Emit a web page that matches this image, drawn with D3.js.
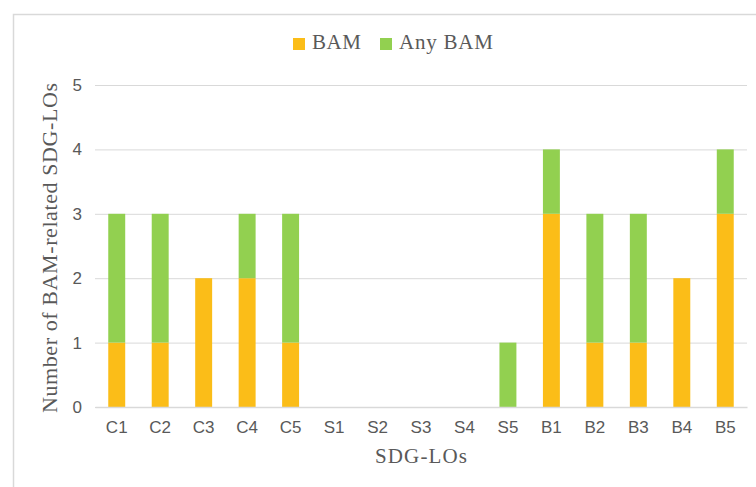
<!DOCTYPE html>
<html>
<head>
<meta charset="utf-8">
<script src="https://cdn.jsdelivr.net/npm/d3@7"></script>
<style>
    body { margin: 0; background: #fff; }
    .tick line { stroke: #d9d9d9; }
</style>
</head>
<body>
<svg id="chart"></svg>
<script>
const svgWidth = 756,
    svgHeight = 487,
    margin = {top: 85, right: 9, bottom: 80, left: 95},
    width = svgWidth - margin.left - margin.right,
    height = svgHeight - margin.top - margin.bottom;

// data
const categories = ["C1", "C2", "C3", "C4", "C5", "S1", "S2", "S3", "S4", "S5", "B1", "B2", "B3", "B4", "B5"];
const bam =    [1, 1, 2, 2, 1, 0, 0, 0, 0, 0, 3, 1, 1, 2, 3];
const anyBam = [2, 2, 0, 1, 2, 0, 0, 0, 0, 1, 1, 2, 2, 0, 1];
const yTicks = [0, 1, 2, 3, 4, 5];
const seriesNames = ["BAM", "Any BAM"];
const colors = ["#fbbd18", "#92d050"];

const chart = d3.select("#chart")
    .attr("width", svgWidth)
    .attr("height", svgHeight);

// outer frame (only top and left edge are visible)
chart.append("path")
    .attr("d", "M13.5," + svgHeight + "V14.5H" + svgWidth)
    .attr("fill", "none")
    .attr("stroke", "#d9d9d9")
    .attr("stroke-width", 1.5);

const innerChart = chart.append("g").attr("transform", `translate(${margin.left},${margin.top})`);

var xScale = d3.scaleBand().domain(categories).range([0, width]).paddingInner(0.61).paddingOuter(0.305);
var yScale = d3.scaleLinear().domain([0, 5]).range([height, 0]);

// grid lines + y labels
var yAxis = d3.axisLeft(yScale).tickValues(yTicks).tickSize(-width).tickPadding(13).tickFormat(d3.format("d"));
innerChart.append("g")
    .call(yAxis)
    .call(g => g.select(".domain").remove())
    .call(g => g.selectAll("text")
        .style("font-family", "'Liberation Sans', Arial, sans-serif")
        .style("font-size", "17px")
        .attr("fill", "#595959"));

// stack the two series
var rows = categories.map((c, i) => ({cat: c, BAM: bam[i], "Any BAM": anyBam[i]}));
var stacked = d3.stack().keys(seriesNames)(rows);

innerChart.append("g").selectAll("g")
    .data(stacked)
    .enter()
    .append("g")
    .attr("fill", (d, i) => colors[i])
    .selectAll("rect")
    .data(d => d)
    .enter()
    .append("rect")
    .attr("x", d => xScale(d.data.cat))
    .attr("width", xScale.bandwidth())
    .attr("y", d => yScale(d[1]))
    .attr("height", d => yScale(d[0]) - yScale(d[1]));

// x axis
var xAxis = d3.axisBottom(xScale).tickSize(0).tickPadding(14);
innerChart.append("g")
    .attr("transform", "translate(0," + height + ")")
    .call(xAxis)
    .call(g => g.select(".domain").attr("stroke", "#d9d9d9").attr("stroke-width", 1.5))
    .call(g => g.selectAll("text")
        .style("font-family", "'Liberation Sans', Arial, sans-serif")
        .style("font-size", "17px")
        .attr("fill", "#595959"));

// axis titles
innerChart.append("text")
    .attr("x", width / 2)
    .attr("y", height + 56)
    .attr("text-anchor", "middle")
    .attr("textLength", 92)
    .attr("lengthAdjust", "spacing")
    .style("font-family", "'Liberation Serif', serif")
    .style("font-size", "21px")
    .attr("fill", "#595959")
    .text("SDG-LOs");

innerChart.append("text")
    .attr("transform", "rotate(-90)")
    .attr("x", -(height / 2) - 2)
    .attr("y", -margin.left + 57)
    .attr("text-anchor", "middle")
    .attr("textLength", 330)
    .attr("lengthAdjust", "spacing")
    .style("font-family", "'Liberation Serif', serif")
    .style("font-size", "22px")
    .attr("fill", "#595959")
    .text("Number of BAM-related SDG-LOs");

// legend
var legend = chart.append("g").attr("transform", "translate(293,38)");
var legendX = [0, 87];
var legendLen = [49, 94];
seriesNames.forEach(function(name, i) {
    var item = legend.append("g").attr("transform", "translate(" + legendX[i] + ",0)");
    item.append("rect").attr("width", 12).attr("height", 12).attr("fill", colors[i]);
    item.append("text")
        .attr("x", 19)
        .attr("y", 11)
        .attr("textLength", legendLen[i])
        .attr("lengthAdjust", "spacing")
        .style("font-family", "'Liberation Serif', serif")
        .style("font-size", "21px")
        .attr("fill", "#595959")
        .text(name);
});
</script>
</body>
</html>
